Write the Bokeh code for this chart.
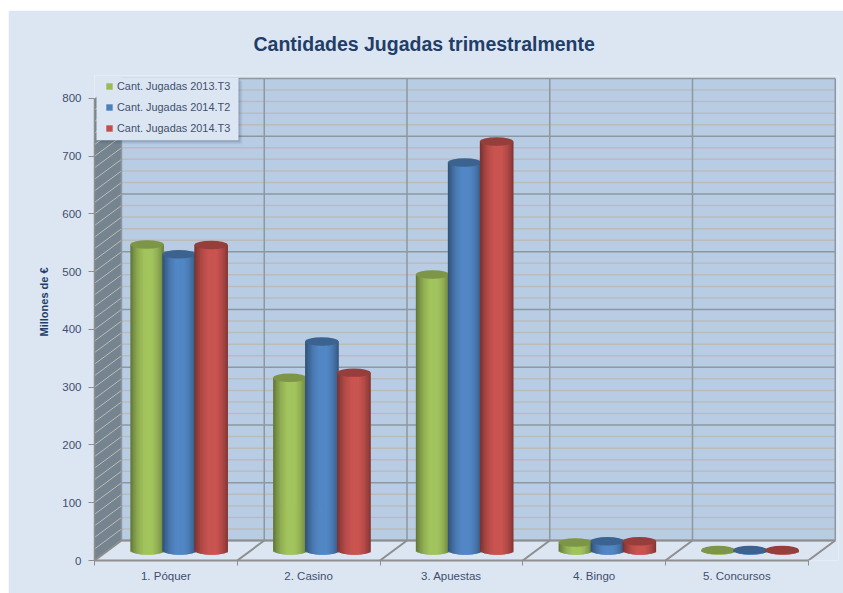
from math import sqrt
from bokeh.plotting import figure
from bokeh.embed import file_html
from bokeh.resources import INLINE
from bokeh.models import FixedTicker, Legend, LegendItem, Range1d, Title, ColumnDataSource

categories = ["1. Póquer", "2. Casino", "3. Apuestas", "4. Bingo", "5. Concursos"]
series_names = ["Cant. Jugadas 2013.T3", "Cant. Jugadas 2014.T2", "Cant. Jugadas 2014.T3"]
jugadas_2013_t3 = [530, 299, 478, 14, 1]
jugadas_2014_t2 = [513, 362, 672, 16, 1]
jugadas_2014_t3 = [529, 308, 708, 16, 1]
y_ticks = [0, 100, 200, 300, 400, 500, 600, 700, 800]
title_text = "Cantidades Jugadas trimestralmente"
y_label = "Millones de €"

PANEL = "#dce6f2"
WALL = "#b8cde4"
SIDE = "#75848f"
MAJOR = "#8c979f"
MINOR = "#babcbc"
FLOOR = "#8e8e8e"
TEXT = "#3f4f6e"
TITLE = "#223d68"
FONT = "Liberation Sans"
SERIES = ["#9bbb59", "#4f81bd", "#c0504d"]
CAP_SHADE = [0.80, 0.76, 0.78]

# pixel geometry of the frame
FX0, FX1, FY0, FY1 = 94, 838, 560, 74
PX_X = 142.75         # px per category
PX_Y = 463 / 800      # px per value unit
DX = 27 / PX_X        # 3D depth
DY = 20 / PX_Y
BAR_W = 33.5 / PX_X
BAR_STEP = 32 / PX_X
CAP_H = 8.5 / PX_Y
BASE = 10 / PX_Y
N_STRIPS = 24

def X(px):
    return (px - FX0) / PX_X
def Y(py):
    return (FY0 - py) / PX_Y

p = figure(width=835, height=583, margin=(10, 0, 0, 8), output_backend="svg", toolbar_location=None,
           x_range=Range1d(0, X(FX1)), y_range=Range1d(0, Y(FY1)),
           min_border_left=FX0 - 8, min_border_right=843 - FX1,
           min_border_top=FY1 - 10, min_border_bottom=593 - FY0,
           background_fill_color=PANEL, border_fill_color=PANEL, outline_line_color=None)
p.grid.visible = False

n = len(categories)
# back wall
p.quad(left=[DX], right=[n + DX], bottom=[DY], top=[y_ticks[-1] + DY], fill_color=WALL, line_color=None)
# left wall
p.patch([0, DX, DX, 0], [0, DY, y_ticks[-1] + DY, y_ticks[-1]], fill_color=SIDE, line_color=None)

# gridlines
minor_vals = [v for v in range(0, y_ticks[-1] + 1, 20) if v % 100]
major_vals = y_ticks
p.segment(x0=[DX] * len(minor_vals), x1=[n + DX] * len(minor_vals),
          y0=[v + DY for v in minor_vals], y1=[v + DY for v in minor_vals], line_color=MINOR, line_width=1.5)
p.segment(x0=[0] * len(minor_vals), x1=[DX] * len(minor_vals),
          y0=minor_vals, y1=[v + DY for v in minor_vals], line_color=MINOR, line_width=1)
p.segment(x0=[0] * len(major_vals), x1=[DX] * len(major_vals),
          y0=major_vals, y1=[v + DY for v in major_vals], line_color=MINOR, line_width=1)
p.segment(x0=[DX] * len(major_vals), x1=[n + DX] * len(major_vals),
          y0=[v + DY for v in major_vals], y1=[v + DY for v in major_vals], line_color=MAJOR, line_width=1.5)
p.segment(x0=[i + DX for i in range(n + 1)], x1=[i + DX for i in range(n + 1)],
          y0=[DY] * (n + 1), y1=[y_ticks[-1] + DY] * (n + 1), line_color=MAJOR, line_width=1.5)
# floor lines
p.segment(x0=list(range(n + 1)), x1=[i + DX for i in range(n + 1)],
          y0=[0] * (n + 1), y1=[DY] * (n + 1), line_color=FLOOR, line_width=2)
p.segment(x0=[DX], x1=[n + DX], y0=[DY], y1=[DY], line_color=FLOOR, line_width=2)

def shade(color, f):
    c = [int(color[i:i + 2], 16) for i in (1, 3, 5)]
    return "#%02x%02x%02x" % tuple(min(255, int(v * f)) for v in c)

def profile(u):
    # brightness across a cylinder, u in -1..1
    pts = [(-1, .62), (-.8, .78), (-.5, .95), (-.15, 1.05), (.3, 1.05), (.6, .95), (.85, .8), (1, .66)]
    for (a, fa), (b, fb) in zip(pts, pts[1:]):
        if a <= u <= b:
            return fa + (fb - fa) * (u - a) / (b - a)
    return 1

all_series = [jugadas_2013_t3, jugadas_2014_t2, jugadas_2014_t3]
strip_renderers = []
GROUP_C = 13.2 / PX_X
# strip whose colour is closest to the plain series colour, used for the legend swatch
mids = [-1 + 2 * (k + .5) / N_STRIPS for k in range(N_STRIPS)]
swatch_index = min(range(N_STRIPS), key=lambda k: (abs(profile(mids[k]) - 1), mids[k]))
for s, vals in enumerate(all_series):
    left, right, top, bottom, col = [], [], [], [], []
    for i, v in enumerate(vals):
        cx = i + .5 + GROUP_C + (s - 1) * BAR_STEP
        for k in range(N_STRIPS):
            u0 = -1 + 2 * k / N_STRIPS
            u1 = min(1, -1 + 2 * (k + 2) / N_STRIPS)   # overlap next strip, no seams
            um = mids[k]
            left.append(cx + u0 * BAR_W / 2)
            right.append(cx + u1 * BAR_W / 2)
            top.append(BASE + v)
            bottom.append(BASE - CAP_H / 2 * sqrt(1 - um * um))
            col.append(shade(SERIES[s], profile(um)))
    src = ColumnDataSource(dict(left=left, right=right, top=top, bottom=bottom, col=col))
    strip_renderers.append(p.quad(left="left", right="right", top="top", bottom="bottom",
                                  fill_color="col", line_color=None, source=src))
    p.ellipse(x=[i + .5 + GROUP_C + (s - 1) * BAR_STEP for i in range(n)], y=[BASE + v for v in vals],
              width=BAR_W, height=CAP_H, fill_color=shade(SERIES[s], CAP_SHADE[s]), line_color=None)

# legend box with soft shadow
bx0, bx1, by0, by1 = 96, 238, 76, 139
for off, a in ((4, .05), (3, .07), (2, .10), (1, .14)):
    p.quad(left=[X(bx0 + off)], right=[X(bx1 + off)], top=[Y(by0 + off)], bottom=[Y(by1 + off)],
           fill_color="#30405a", fill_alpha=a, line_color=None)
p.quad(left=[X(bx0)], right=[X(bx1)], top=[Y(by0)], bottom=[Y(by1)], fill_color=PANEL, line_color=None)

legend = Legend(items=[LegendItem(label=nm, renderers=[r], index=swatch_index)
                       for nm, r in zip(series_names, strip_renderers)],
                location=(11, 425), background_fill_alpha=0, border_line_color=None,
                padding=0, margin=0, spacing=7, label_height=14, glyph_width=8, glyph_height=8,
                label_standoff=4, label_text_font=FONT, label_text_font_size="10.9px",
                label_text_color=TEXT)
p.add_layout(legend)

# axes
ya = p.yaxis[0]
ya.ticker = FixedTicker(ticks=y_ticks)
ya.bounds = (y_ticks[0], y_ticks[-1])
ya.axis_line_color = FLOOR
ya.axis_line_width = 1.5
ya.major_tick_line_color = FLOOR
ya.major_tick_out = 6
ya.major_tick_in = 0
ya.minor_tick_line_color = None
ya.major_label_text_font = FONT
ya.major_label_text_font_size = "11.5px"
ya.major_label_text_color = TEXT
ya.major_label_standoff = 7

# y-axis title sits above the frame's centre in the reference, so it is a side title with an offset
p.add_layout(Title(text=y_label, align="left", offset=224, standoff=20, text_font=FONT,
                   text_font_size="11px", text_font_style="bold", text_color=TITLE), "left")

xa = p.xaxis[0]
ticks = [i + .5 for i in range(n)]
xa.ticker = FixedTicker(ticks=ticks, minor_ticks=list(range(n + 1)))
xa.major_label_overrides = {t: c for t, c in zip(ticks, categories)}
xa.bounds = (0, n)
xa.axis_line_color = FLOOR
xa.axis_line_width = 2
xa.major_tick_line_color = None
xa.minor_tick_line_color = FLOOR
xa.minor_tick_out = 5
xa.minor_tick_in = 0
xa.major_label_text_font = FONT
xa.major_label_text_font_size = "11.5px"
xa.major_label_text_color = TEXT
xa.major_label_standoff = 3

p.add_layout(Title(text=title_text, align="left", offset=159, standoff=41, text_font=FONT,
                   text_font_size="19.5px", text_font_style="bold", text_color=TITLE), "above")

open("out.html", "w").write(file_html(p, INLINE))
